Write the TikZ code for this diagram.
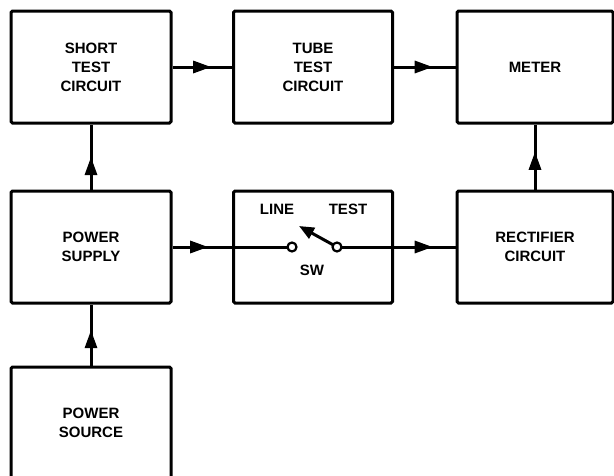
\documentclass[tikz,border=0pt]{standalone}
\usepackage{fontspec}
\setmainfont{Liberation Sans}
\usetikzlibrary{arrows.meta,decorations.markings}

\begin{document}
\begin{tikzpicture}[x=1pt,y=-1pt,
    blk/.style={draw,line width=3pt,rounded corners=1.5pt,minimum width=160pt,minimum height=112pt,inner sep=0pt,align=center,font=\fontsize{15}{19}\selectfont\bfseries},
    lbl/.style={inner sep=0pt,font=\fontsize{15}{19}\selectfont\bfseries},
    wire/.style={line width=3pt},
    flow/.style={wire,postaction={decorate},decoration={markings,mark=at position #1 with {\arrow{Triangle[length=18pt,width=12pt]}}}},
    flow/.default=0.62]
  \useasboundingbox (0,0) rectangle (614,475);
  % top row
  \node[blk] (short) at (91,67) {SHORT\\TEST\\CIRCUIT};
  \node[blk,minimum width=159pt] (tube) at (313,67) {TUBE\\TEST\\CIRCUIT};
  \node[blk,minimum width=156pt] (meter) at (535,67) {METER};
  % middle row
  \node[blk] (supply) at (91,247) {POWER\\SUPPLY};
  \node[blk,minimum width=159pt] (sw) at (313,247) {};
  \node[blk,minimum width=156pt] (rect) at (535,247) {RECTIFIER\\CIRCUIT};
  % bottom
  \node[blk] (source) at (91,423) {POWER\\SOURCE};
  % switch inside sw box
  \coordinate (swL) at (292,247);
  \coordinate (swR) at (337,247);
  \coordinate (lever) at (299,226);
  \node[lbl] (line) at (277,209) {LINE};
  \node[lbl] (test) at (348,209) {TEST};
  \node[lbl] (swlbl) at (312,270) {SW};
  \draw[wire] (sw.west) -- (swL);
  \draw[wire] (swR) -- (sw.east);
  \draw[wire,-{Triangle[length=15pt,width=12pt]},shorten <=3pt] (swR) -- (lever);
  \draw[line width=2.2pt,fill=white] (swL) circle (4.5pt) (swR) circle (4.5pt);
  % connectors
  \draw[flow=0.65] (short.east) -- (tube.west);
  \draw[flow=0.63] (tube.east) -- (meter.west);
  \draw[flow=0.6] (supply.east) -- (sw.west);
  \draw[flow=0.63] (sw.east) -- (rect.west);
  \draw[flow=0.5] (supply.north) -- (short.south);
  \draw[flow=0.58] (rect.north) -- (meter.south);
  \draw[flow=0.58] (source.north) -- (supply.south);
\end{tikzpicture}
\end{document}
